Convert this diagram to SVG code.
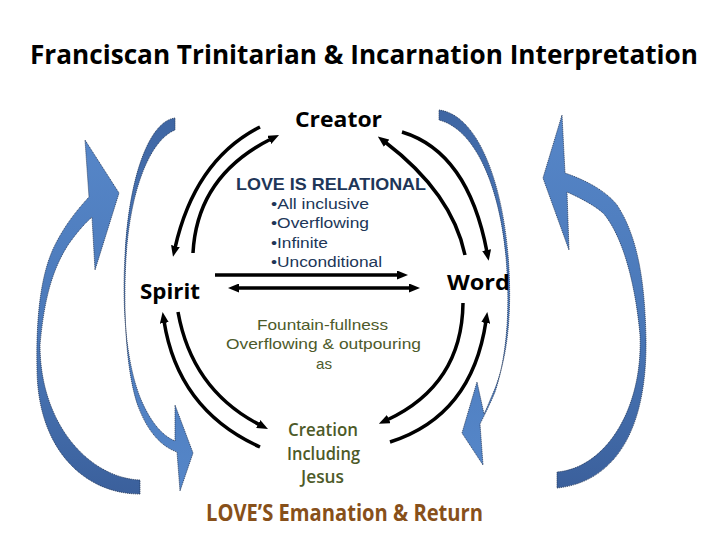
<svg xmlns="http://www.w3.org/2000/svg" width="720" height="540" viewBox="0 0 720 540">
<style>
.t{font-family:"Open Sans","Liberation Sans",sans-serif;font-weight:bold;fill:#000}
.rel{font-family:"Liberation Sans",Arial,sans-serif;fill:#203658}
.olive{font-family:"Liberation Sans",Arial,sans-serif;fill:#4d5a2a}
.cre{font-family:"Open Sans","Liberation Sans",sans-serif;font-weight:600;fill:#4d5a28}
.ln{fill:none;stroke:#000;stroke-width:3.5}
.blue{stroke:#24385a;stroke-width:0.8;stroke-dasharray:1.2 0.8}
</style>
<defs>
<marker id="ah" viewBox="0 0 11 9" refX="2" refY="4.5" markerWidth="11" markerHeight="9" markerUnits="userSpaceOnUse" orient="auto-start-reverse">
<path d="M0,0 L11,4.5 L0,9 z" fill="#000"/>
</marker>
<linearGradient id="gOut" x1="0" y1="0" x2="0" y2="1">
<stop offset="0" stop-color="#5686c8"/>
<stop offset="0.55" stop-color="#4a78b8"/>
<stop offset="1" stop-color="#3b609c"/>
</linearGradient>
<linearGradient id="gIn" x1="0" y1="0" x2="0" y2="1">
<stop offset="0" stop-color="#3f66a3"/>
<stop offset="0.5" stop-color="#4c7bbd"/>
<stop offset="1" stop-color="#5586c8"/>
</linearGradient>
</defs>
<rect width="720" height="540" fill="#fff"/>

<g id="title">
<text class="t" x="30" y="64" font-size="27" font-weight="600" textLength="668" lengthAdjust="spacingAndGlyphs">Franciscan Trinitarian &amp; Incarnation Interpretation</text>
</g>

<g id="blue-arrows">
<path id="outer-left" class="blue" fill="url(#gOut)" d="M140,494 C85,494 38,450 37,370 C36,320 40,275 55,245 C65,225 77,210 89,197 L85,140 L119,193 L95,270 L92,217 C83,225 75,235 68,245 C52,270 44,300 40,345 C40,425 90,478 140,480 Z"/>
<path id="outer-right" class="blue" fill="url(#gOut)" d="M557,488 C615,482 647,430 646,340 C645,290 640,240 617,205 C605,190 585,180 565,173 L562,115 L543,178 L569,250 L567,192 C585,200 598,208 604,214 C625,240 636,290 640,335 C643,410 605,468 557,472 Z"/>
<path id="inner-left" class="blue" fill="url(#gIn)" d="M175,118 C150,121 129,175 125,255 C122,310 126,365 142,402 C152,424 163,436 175,441 L175,405 L193,453 L180,491 L177,452 C160,446 147,430 138,406 C126,372 123,310 126,258 C130,190 150,140 175,130 Z"/>
<path id="inner-right" class="blue" fill="url(#gIn)" d="M439,110 C480,115 505,190 509,270 C512,330 504,370 491,398 C488,405 486,410 484,414 L477,382 L462,433 L483,465 L480,424 C484,416 490,404 495,392 C505,362 510,320 507,272 C503,195 478,130 439,120 Z"/>
</g>

<g id="connectors">
<path class="ln" marker-end="url(#ah)" d="M260,127 Q195,160 175,248"/>
<path class="ln" marker-end="url(#ah)" d="M193,253 Q197,176 271,139"/>
<path class="ln" marker-end="url(#ah)" d="M402,132 Q468,152 487,252"/>
<path class="ln" marker-end="url(#ah)" d="M465,255 Q452,193 385,142"/>
<path class="ln" marker-end="url(#ah)" d="M215,275 L399,275"/>
<path class="ln" marker-start="url(#ah)" marker-end="url(#ah)" d="M237,288 L411,288"/>
<path class="ln" marker-end="url(#ah)" d="M260,447 Q178,410 164,321"/>
<path class="ln" marker-end="url(#ah)" d="M178,312 Q192,390 260,425"/>
<path class="ln" marker-end="url(#ah)" d="M463,303 Q462,385 387,420"/>
<path class="ln" marker-end="url(#ah)" d="M390,442 Q472,416 486,321"/>
</g>

<g id="creator"><text class="t" x="295" y="127" font-size="22" textLength="87" lengthAdjust="spacingAndGlyphs">Creator</text></g>
<g id="spirit"><text class="t" x="140" y="299" font-size="22" textLength="60" lengthAdjust="spacingAndGlyphs">Spirit</text></g>
<g id="word"><text class="t" x="447" y="290" font-size="22" textLength="63" lengthAdjust="spacingAndGlyphs">Word</text></g>

<g id="love-relational">
<text class="rel" x="236" y="190" font-size="17" font-weight="bold" textLength="190" lengthAdjust="spacingAndGlyphs">LOVE IS RELATIONAL</text>
<text class="rel" x="271" y="209" font-size="15.5" textLength="98" lengthAdjust="spacingAndGlyphs">•All inclusive</text>
<text class="rel" x="271" y="228" font-size="15.5" textLength="98" lengthAdjust="spacingAndGlyphs">•Overflowing</text>
<text class="rel" x="271" y="248" font-size="15.5" textLength="57" lengthAdjust="spacingAndGlyphs">•Infinite</text>
<text class="rel" x="271" y="267" font-size="15.5" textLength="111" lengthAdjust="spacingAndGlyphs">•Unconditional</text>
</g>

<g id="fountain">
<text class="olive" x="257" y="330" font-size="15" textLength="131" lengthAdjust="spacingAndGlyphs">Fountain-fullness</text>
<text class="olive" x="226" y="349" font-size="15" textLength="195" lengthAdjust="spacingAndGlyphs">Overflowing &amp; outpouring</text>
<text class="olive" x="316" y="369" font-size="15" textLength="16" lengthAdjust="spacingAndGlyphs">as</text>
</g>

<g id="creation">
<text class="cre" x="288" y="436" font-size="18" textLength="70" lengthAdjust="spacingAndGlyphs">Creation</text>
<text class="cre" x="287" y="460" font-size="18" textLength="73" lengthAdjust="spacingAndGlyphs">Including</text>
<text class="cre" x="301" y="483" font-size="18" textLength="43" lengthAdjust="spacingAndGlyphs">Jesus</text>
</g>

<g id="footer">
<text x="206" y="521" font-family="Open Sans, Liberation Sans, sans-serif" font-weight="bold" font-size="22.5" fill="#87501a" textLength="277" lengthAdjust="spacingAndGlyphs">LOVE’S Emanation &amp; Return</text>
</g>
</svg>
